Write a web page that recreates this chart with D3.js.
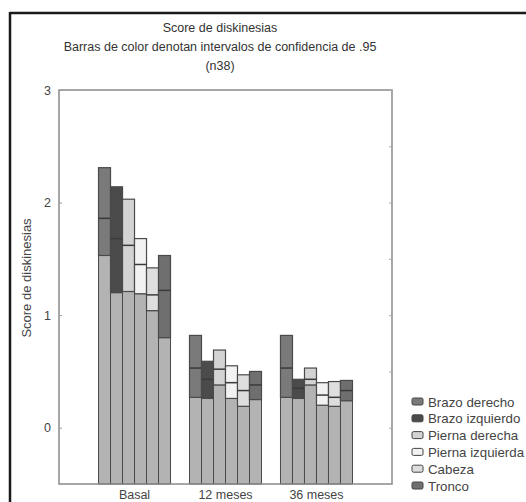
<!DOCTYPE html>
<html>
<head>
<meta charset="utf-8">
<script src="https://cdn.jsdelivr.net/npm/d3@7"></script>
<style>
  html, body { margin: 0; padding: 0; background: #fff; }
  svg { display: block; font-family: "Liberation Sans", Arial, sans-serif; }
</style>
</head>
<body>
<svg id="chart" width="526" height="502"></svg>
<script>
// Dyskinesia scores: mean with 95% confidence interval per body region and visit
const categories = ["Basal", "12 meses", "36 meses"];
const seriesNames = ["Brazo derecho", "Brazo izquierdo", "Pierna derecha", "Pierna izquierda", "Cabeza", "Tronco"];

// rows follow categories, columns follow seriesNames
const meanValues = [
  [1.86, 1.68, 1.62, 1.45, 1.18, 1.22],
  [0.53, 0.43, 0.52, 0.40, 0.33, 0.38],
  [0.53, 0.35, 0.43, 0.29, 0.27, 0.33]
];
const lowerCI = [
  [1.53, 1.20, 1.21, 1.19, 1.04, 0.80],
  [0.27, 0.26, 0.38, 0.26, 0.19, 0.25],
  [0.27, 0.26, 0.38, 0.20, 0.19, 0.24]
];
const upperCI = [
  [2.31, 2.14, 2.03, 1.68, 1.42, 1.53],
  [0.82, 0.59, 0.69, 0.55, 0.47, 0.50],
  [0.82, 0.43, 0.53, 0.40, 0.41, 0.42]
];
const yTicks = [0, 1, 2, 3];

const seriesColors = ["#7a7a7a", "#4b4b4b", "#d3d3d3", "#f2f2f2", "#dedede", "#6f6f6f"];
const baseColor = "#b3b3b3";
const strokeColor = "#4a4a4a";

const svg = d3.select("#chart");

// outer border (top and left edges)
svg.append("line").attr("x1", 10).attr("x2", 526).attr("y1", 13).attr("y2", 13)
  .attr("stroke", "#1a1a1a").attr("stroke-width", 2.5);
svg.append("line").attr("x1", 10).attr("x2", 10).attr("y1", 12).attr("y2", 502)
  .attr("stroke", "#1a1a1a").attr("stroke-width", 2.5);

const plot = { left: 59, right: 392, top: 90, bottom: 484 };

const y = d3.scaleLinear().domain([-0.5, 3]).range([plot.bottom, plot.top]);
const x0 = d3.scalePoint().domain(categories).range([plot.left, plot.right]).padding(0.83);
const x1 = d3.scaleBand().domain(seriesNames).range([-36, 36]).padding(0);

// titles
const titleLines = ["Score de diskinesias", "Barras de color denotan intervalos de confidencia de .95", "(n38)"];
svg.selectAll("text.title").data(titleLines).join("text")
  .attr("class", "title")
  .attr("x", 220)
  .attr("y", (d, i) => 32 + i * 19)
  .attr("text-anchor", "middle")
  .attr("font-size", 12.5)
  .attr("fill", "#333")
  .text(d => d);

// bars: grey base up to the lower bound, coloured box across the interval
const g = svg.append("g");
categories.forEach((cat, ci) => {
  const grp = g.append("g").attr("transform", `translate(${x0(cat)},0)`);
  seriesNames.forEach((s, si) => {
    const bx = x1(s), bw = x1.bandwidth();
    const lo = lowerCI[ci][si], mu = meanValues[ci][si], hi = upperCI[ci][si];
    grp.append("rect")
      .attr("x", bx).attr("width", bw)
      .attr("y", y(lo)).attr("height", y(-0.5) - y(lo))
      .attr("fill", baseColor).attr("stroke", strokeColor).attr("stroke-width", 1);
    grp.append("rect")
      .attr("x", bx).attr("width", bw)
      .attr("y", y(hi)).attr("height", y(lo) - y(hi))
      .attr("fill", seriesColors[si]).attr("stroke", strokeColor).attr("stroke-width", 1.2);
    // mean marker
    grp.append("line")
      .attr("x1", bx).attr("x2", bx + bw)
      .attr("y1", y(mu)).attr("y2", y(mu))
      .attr("stroke", "#3a3a3a").attr("stroke-width", 1.5);
  });
});

// plot frame
svg.append("rect")
  .attr("x", plot.left).attr("y", plot.top)
  .attr("width", plot.right - plot.left).attr("height", plot.bottom - plot.top)
  .attr("fill", "none").attr("stroke", "#8a8a8a").attr("stroke-width", 1.5);

// left axis
const yAxis = svg.append("g")
  .attr("transform", `translate(${plot.left},0)`)
  .call(d3.axisRight(y).tickValues(yTicks).tickSize(3).tickFormat(""));
yAxis.select(".domain").remove();
yAxis.selectAll(".tick line").attr("stroke", "#999");
svg.selectAll("text.ytick").data(yTicks).join("text")
  .attr("class", "ytick")
  .attr("x", 51).attr("y", d => y(d) + 4.5)
  .attr("text-anchor", "end")
  .attr("font-size", 12.5).attr("fill", "#444")
  .text(d3.format("d"));

// right axis minor ticks
const rAxis = svg.append("g")
  .attr("transform", `translate(${plot.right},0)`)
  .call(d3.axisLeft(y).tickValues(d3.range(-0.5, 3.01, 0.5)).tickSize(3).tickFormat(""));
rAxis.select(".domain").remove();
rAxis.selectAll(".tick line").attr("stroke", "#aaa");

// y axis title
svg.append("text")
  .attr("transform", `translate(31,${278}) rotate(-90)`)
  .attr("text-anchor", "middle")
  .attr("font-size", 13).attr("fill", "#444")
  .text("Score de diskinesias");

// x labels
svg.selectAll("text.xlab").data(categories).join("text")
  .attr("class", "xlab")
  .attr("x", d => x0(d)).attr("y", 499)
  .attr("text-anchor", "middle")
  .attr("font-size", 12.5).attr("fill", "#444")
  .text(d => d);

// legend
const legend = svg.append("g");
seriesNames.forEach((s, i) => {
  const ly = 402 + i * 16.8;
  legend.append("rect")
    .attr("x", 412).attr("y", ly - 4).attr("width", 11).attr("height", 7)
    .attr("rx", 1.5)
    .attr("fill", seriesColors[i]).attr("stroke", "#444").attr("stroke-width", 1);
  legend.append("text")
    .attr("x", 428).attr("y", ly + 4.5)
    .attr("font-size", 13.3).attr("fill", "#444")
    .text(s);
});
</script>
</body>
</html>
